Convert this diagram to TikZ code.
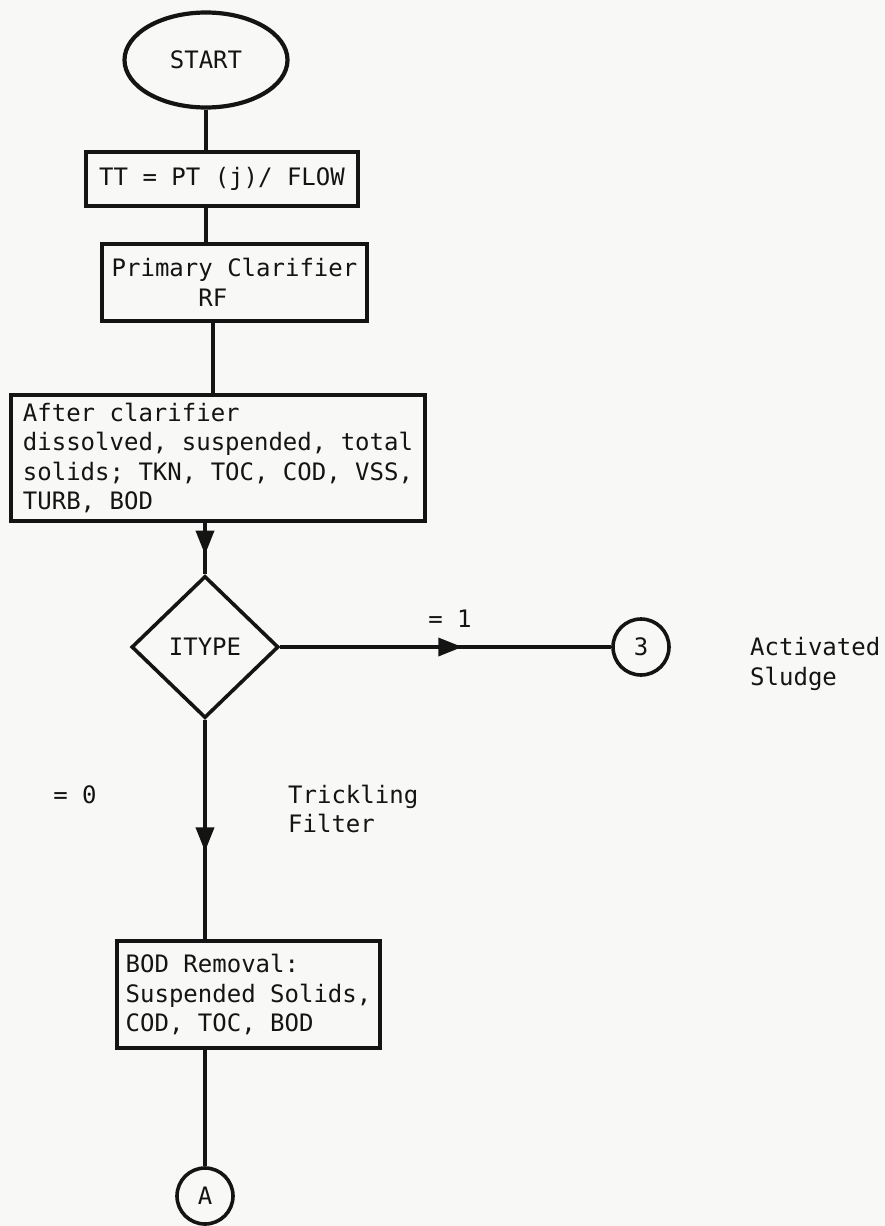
\documentclass[tikz,border=0pt]{standalone}
\usepackage{fontspec}
\newfontfamily\typew{DejaVu Sans Mono}
\usetikzlibrary{shapes.geometric,arrows.meta,decorations.markings}
\definecolor{paper}{RGB}{248,248,246}
\definecolor{ink}{RGB}{20,20,20}
\tikzset{
  every node/.style={font=\typew\fontsize{24}{29.5}\selectfont, text=ink},
  line/.style={draw=ink, line width=3.6pt},
  procbox/.style={rectangle, draw=ink, line width=3.6pt, align=left, inner sep=0pt},
  midarrow/.style={postaction={decorate}, decoration={markings,
      mark=at position #1 with {\arrow{Triangle[length=24pt,width=18pt]}}}},
  conn/.style={circle, draw=ink, line width=3.6pt, minimum size=56pt, inner sep=0pt},
  lbl/.style={align=left, inner sep=0pt, anchor=west}
}
\begin{document}
\begin{tikzpicture}[x=1pt,y=-1pt]
\fill[paper] (0,0) rectangle (885,1226);
\useasboundingbox (0,0) rectangle (885,1226);

\node[ellipse, draw=ink, line width=4.2pt, minimum width=163pt, minimum height=95pt, inner sep=0pt] (start) at (206,60) {START};
\node[procbox, minimum width=272pt, minimum height=54pt] (tt) at (222,179) {TT = PT (j)/ FLOW};
\node[procbox, minimum width=265pt, minimum height=77pt] (pc) at (234.5,282.5) {Primary Clarifier\\\hphantom{Primar}RF};
\node[procbox, minimum width=414pt, minimum height=126pt] (after) at (218,458) {After clarifier\\dissolved, suspended, total\\solids; TKN, TOC, COD, VSS,\\TURB, BOD};
\node[diamond, draw=ink, line width=3.6pt, minimum width=147pt, minimum height=142pt, inner sep=0pt] (itype) at (205,647) {ITYPE};
\node[conn] (three) at (641,647) {3};
\node[procbox, minimum width=263pt, minimum height=107pt] (bod) at (248.5,994.5) {BOD Removal:\\Suspended Solids,\\COD, TOC, BOD};
\node[conn] (a) at (205,1196) {A};

\node[anchor=center, inner sep=0pt] (eq1) at (450,619) {= 1};
\node[anchor=center, inner sep=0pt] (eq0) at (75,795) {= 0};
\node[lbl] (trick) at (288,809) {Trickling\\Filter};
\node[lbl] (act) at (750,664) {Activated\\Sludge};

\draw[line] (start.south) -- (start.south |- tt.north);
\draw[line] (tt.south -| start) -- (pc.north -| start);
\draw[line] (pc.south -| 213,0) -- (after.north -| 213,0);
\draw[line, midarrow=0.62] (after.south -| itype.north) -- (itype.north);
\draw[line, midarrow=0.55] (itype.east) -- (three.west);
\draw[line, midarrow=0.6] (itype.south) -- (itype.south |- bod.north);
\draw[line] (bod.south -| a.north) -- (a.north);
\end{tikzpicture}
\end{document}
